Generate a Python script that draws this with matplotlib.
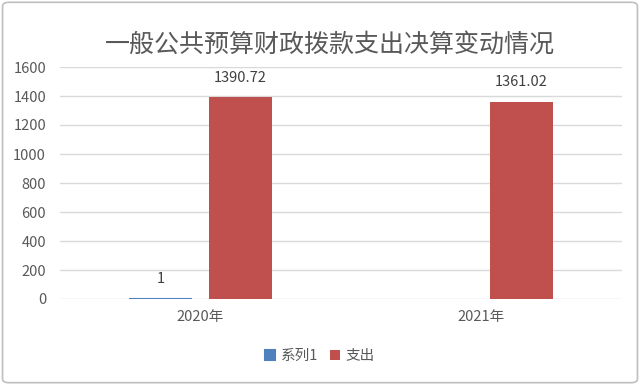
import matplotlib
matplotlib.use("Agg")
import matplotlib.pyplot as plt
import numpy as np
from matplotlib.patches import FancyBboxPatch

plt.rcParams['font.family'] = ['Noto Sans CJK SC', 'DejaVu Sans']

categories = ["2020年", "2021年"]
series_names = ["系列1", "支出"]
series1 = [1, np.nan]
spend = [1390.72, 1361.02]
colors = ["#4F81BD", "#C0504D"]
title = "一般公共预算财政拨款支出决算变动情况"

fig = plt.figure(figsize=(6.4, 3.85), dpi=100)
ax = fig.add_axes([60/640, 1-299/385, 562/640, 232/385])

x = np.arange(len(categories))
w = 0.224
off = 0.142
b1 = ax.bar(x - off, series1, w, color=colors[0], edgecolor=colors[0], linewidth=1.5,
            label=series_names[0])
b2 = ax.bar(x + off, spend, w, color=colors[1], label=series_names[1])

for xi, v in zip(x - off, series1):
    if not np.isnan(v):
        ax.text(xi, v + 135, f"{v:g}", ha="center", va="center", fontsize=10.5, color="#404040")
for xi, v in zip(x + off, spend):
    ax.text(xi, v + 135, f"{v:.2f}", ha="center", va="center", fontsize=10.5, color="#404040")

ax.set_xlim(-0.5, 1.5)
ax.set_ylim(0, 1600)
ax.set_yticks(np.arange(0, 1601, 200))
ax.set_xticks(x)
ax.set_xticklabels(categories)
ax.tick_params(axis="both", length=0, labelsize=10.5, colors="#595959")
ax.tick_params(axis="x", pad=8)
ax.tick_params(axis="y", pad=10)
for s in ax.spines.values():
    s.set_visible(False)
ax.grid(axis="y", color="#D9D9D9", linewidth=1)
ax.set_axisbelow(True)

fig.text(330/640, 1-45/385, title, ha="center", va="center", fontsize=18, color="#595959")

leg = fig.legend(handles=[b1, b2], labels=series_names, loc="center", bbox_to_anchor=(320/640, 1-356/385),
                 ncol=2, frameon=False, fontsize=10.5, handlelength=0.7, handleheight=0.7,
                 handletextpad=0.4, columnspacing=0.8)
for t in leg.get_texts():
    t.set_color("#595959")

border = FancyBboxPatch((0.004, 0.006), 0.992, 0.988, boxstyle="round,pad=0,rounding_size=0.01",
                        transform=fig.transFigure, fill=False, edgecolor="#BFBFBF", linewidth=1.2)
fig.patches.append(border)

fig.savefig("out.png", dpi=100)
